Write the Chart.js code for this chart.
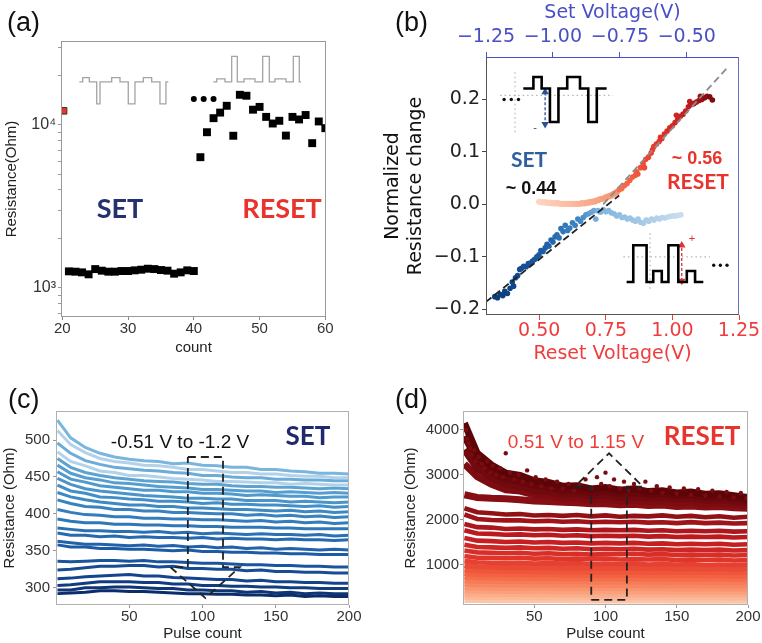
<!DOCTYPE html>
<html><head><meta charset="utf-8">
<script src="https://cdn.jsdelivr.net/npm/chart.js@4.4.1/dist/chart.umd.min.js"></script>
<style>
html,body{margin:0;padding:0;background:#fff}
body{width:762px;height:643px;position:relative;overflow:hidden;font-family:'Liberation Sans',Arial,sans-serif}
canvas{position:absolute}
.t{position:absolute;transform:translate(-50%,-50%);white-space:nowrap;line-height:1}
.p{position:absolute;font-size:27px;color:#111;line-height:1}
.b{font-family:Lato,'Open Sans',sans-serif;font-weight:700}
</style></head><body>
<canvas id="ca" width="380" height="360" style="left:0;top:0"></canvas>
<canvas id="cb" width="382" height="365" style="left:380px;top:0"></canvas>
<canvas id="cc" width="380" height="273" style="left:0;top:370px"></canvas>
<canvas id="cd" width="382" height="273" style="left:380px;top:370px"></canvas>

<div class="p" style="left:7px;top:9px">(a)</div>
<div class="p" style="left:395px;top:9px">(b)</div>
<div class="p" style="left:8px;top:386px">(c)</div>
<div class="p" style="left:395px;top:386px">(d)</div>

<div class="t b" style="left:120px;top:207px;font-size:27px;color:#25306f">SET</div>
<div class="t b" style="left:282px;top:207px;font-size:27px;color:#e8342c">RESET</div>

<div class="t b" style="left:529px;top:158px;font-size:21px;color:#2e5f9f">SET</div>
<div class="t" style="left:531px;top:188px;font-size:18px;font-weight:bold;color:#111">~ 0.44</div>
<div class="t" style="left:697px;top:158px;font-size:18px;font-weight:bold;color:#e8342c">~ 0.56</div>
<div class="t b" style="left:698px;top:180px;font-size:21px;color:#e8342c">RESET</div>
<div class="t" style="left:535px;top:127px;font-size:11px;color:#2a4f9a">-</div>
<div class="t" style="left:692px;top:238px;font-size:11px;color:#e03030">+</div>

<div class="t" style="left:180px;top:441px;font-size:19px;color:#111">-0.51 V to -1.2 V</div>
<div class="t b" style="left:308px;top:435px;font-size:26px;color:#1f2a6d">SET</div>
<div class="t" style="left:576px;top:441px;font-size:19px;color:#ef3e36">0.51 V to 1.15 V</div>
<div class="t b" style="left:702px;top:435px;font-size:26px;color:#e8342c">RESET</div>

<script>
// ================= DATA =================
// (a) resistance vs count
const aFirstCount = [20.2];
const aFirstRes = [12200];
const aSetCount = [21,22,23,24,25,26,27,28,29,30,31,32,33,34,35,36,37,38,39,40];
const aSetRes = [1265,1259,1247,1213,1306,1277,1259,1259,1271,1271,1283,1295,1313,1306,1289,1277,1224,1247,1283,1271];
const aResetCount = [41,42,43,44,45,46,47,48,49,50,51,52,53,54,55,56,57,58,59,60];
const aResetRes = [6340,9020,11000,11900,13100,8580,15300,15100,12400,12900,11200,10200,10600,8600,11200,10800,11500,7730,10500,9550];
const aDotsCount = [40,41.5,43];
const aDotsRes = [14400,14400,14400];
const aXTicks = [20,30,40,50,60];
const aYTicks = [700,800,900,1000,2000,3000,4000,5000,6000,7000,8000,9000,10000,20000,30000];
// pulse schematics (time in count units, level in pulse units)
const aSetWaveT = [22.58,23.10,23.10,24.10,24.10,25.23,25.23,25.73,25.73,27.51,27.51,28.77,28.77,30.03,30.03,31.05,31.05,32.32,32.32,33.59,33.59,34.85,34.85,35.76,35.76,36.12];
const aSetWaveL = [0,0,1,1,0,0,-5,-5,0,0,1,1,0,0,-5,-5,0,0,1,1,0,0,-5,-5,0,0];
const aResetWaveT = [42.96,43.48,43.48,44.74,44.74,45.76,45.76,46.61,46.61,47.63,47.63,49.30,49.30,50.47,50.47,51.48,51.48,52.34,52.34,54.02,54.02,55.13,55.13,56.04,56.04,56.3];
const aResetWaveL = [0,0,0.7,0.7,0,0,5.8,5.8,0,0,0.7,0.7,0,0,5.8,5.8,0,0,0.7,0.7,0,0,5.8,5.8,0,0];

// (b) normalized resistance change vs voltage
const bSetV = [-1.217,-1.207,-1.197,-1.187,-1.180,-1.170,-1.160,-1.152,-1.147,-1.140,
 -1.132,-1.124,-1.117,-1.109,-1.100,-1.092,-1.084,-1.076,-1.068,-1.060,
 -1.052,-1.045,-1.037,-1.029,-1.022,-1.015,-1.007,-1.000,-0.992,-0.985,
 -0.977,-0.970,-0.962,-0.954,-0.945,-0.937,-0.927,-0.917,-0.907,-0.897,
 -0.887,-0.877,-0.867,-0.857,-0.847,-0.840,-0.832,-0.822,-0.812,-0.802,
 -0.792,-0.782,-0.772,-0.762,-0.752,-0.742,-0.732,-0.722,-0.712,-0.702,
 -0.692,-0.682,-0.672,-0.662,-0.652,-0.642,-0.632,-0.622,-0.612,-0.602,
 -0.592,-0.582,-0.572,-0.562,-0.552,-0.542,-0.532,-0.522];
const bSetDR = [-0.176,-0.178,-0.172,-0.174,-0.166,-0.170,-0.160,-0.148,-0.156,-0.140,
 -0.136,-0.124,-0.122,-0.118,-0.119,-0.113,-0.112,-0.108,-0.105,-0.100,
 -0.096,-0.088,-0.090,-0.083,-0.076,-0.080,-0.068,-0.072,-0.062,-0.058,
 -0.064,-0.046,-0.052,-0.040,-0.050,-0.045,-0.035,-0.040,-0.028,-0.032,
 -0.025,-0.020,-0.018,-0.015,-0.012,-0.028,-0.012,-0.015,-0.010,-0.014,
 -0.012,-0.016,-0.018,-0.022,-0.020,-0.025,-0.024,-0.028,-0.026,-0.030,
 -0.032,-0.028,-0.034,-0.036,-0.030,-0.032,-0.028,-0.030,-0.026,-0.028,
 -0.025,-0.026,-0.024,-0.023,-0.022,-0.022,-0.021,-0.020];
const bResetFlatV = [0.50,0.51,0.52,0.53,0.54,0.55,0.56,0.57,0.58,0.59,0.60,0.61,0.62,0.63,0.64,0.65,0.66,0.67,0.68,0.69,0.70,0.71,0.72,0.73,0.74,0.75,0.76,0.77,0.78,0.79];
const bResetFlatDR = [0.005,0.004,0.004,0.003,0.003,0.002,0.002,0.002,0.001,0.001,0.001,0.001,0.001,0.001,0.001,0.001,0.002,0.002,0.003,0.004,0.005,0.006,0.008,0.010,0.011,0.013,0.015,0.017,0.020,0.023];
const bResetRiseV = [0.80,0.81,0.82,0.83,0.84,0.85,0.86,0.865,0.87,0.88,0.89,0.895,0.90,0.91,0.92,0.925,0.93,0.94,0.95,0.955,0.96,0.97,0.98,0.99,1.00,1.01,1.015,1.02,1.03,1.04,1.05,1.06,1.065,1.07,1.08,1.09,1.10,1.105,1.11,1.12,1.13,1.14,1.15];
const bResetRiseDR = [0.028,0.030,0.036,0.040,0.046,0.052,0.055,0.062,0.058,0.070,0.078,0.070,0.086,0.090,0.098,0.104,0.110,0.115,0.120,0.128,0.125,0.134,0.140,0.146,0.150,0.156,0.170,0.162,0.168,0.172,0.178,0.186,0.196,0.190,0.192,0.195,0.198,0.206,0.200,0.203,0.206,0.205,0.199];
const bFitSetX = [0.30,0.80], bFitSetY = [-0.186,0.017];
const bFitResetX = [0.74,1.205], bFitResetY = [0.0,0.26];
const bXTicks = [0.5,0.75,1.0,1.25];
const bTopTicks = [-1.25,-1.0,-0.75,-0.5];
const bYTicks = [-0.2,-0.1,0,0.1,0.2];
// inset pulse schematics (in reset-voltage / normalized units)
const bSetInsetX = [0.440,0.478,0.478,0.509,0.509,0.540,0.540,0.572,0.572,0.605,0.605,0.653,0.653,0.684,0.684,0.716,0.716,0.753];
const bSetInsetY = [0.221,0.221,0.243,0.243,0.221,0.221,0.157,0.157,0.221,0.221,0.243,0.243,0.221,0.221,0.157,0.157,0.221,0.221];
const bResetInsetX = [0.828,0.853,0.853,0.903,0.903,0.928,0.928,0.960,0.960,0.985,0.985,1.022,1.022,1.054,1.054,1.085,1.085,1.116];
const bResetInsetY = [-0.148,-0.148,-0.078,-0.078,-0.148,-0.148,-0.127,-0.127,-0.148,-0.148,-0.078,-0.078,-0.148,-0.148,-0.127,-0.127,-0.148,-0.148];

// (c) SET pulse trains, (d) RESET pulse trains
const pulses = [1,10,20,30,40,50,60,70,80,90,100,110,120,130,140,150,160,170,180,190,200];
const cSeries = [
 [527,503,490,482,477,474,472,471,468,469,466,465,463,463,460,460,458,457,455,455,454],
 [513,494,483,475,471,469,466,465,463,460,460,458,456,456,454,454,452,451,451,449,449],
 [496,482,472,467,463,461,459,458,456,455,452,452,450,449,449,447,447,446,446,445,445],
 [484,471,465,458,456,452,452,450,448,447,446,444,444,443,442,442,440,441,440,439,439],
 [475,463,456,452,449,447,445,444,443,441,440,440,438,437,437,436,436,435,434,435,434],
 [466,455,449,446,442,441,439,437,436,435,433,433,432,431,431,429,430,429,428,429,428],
 [457,447,443,438,436,434,432,432,430,430,428,428,427,425,426,425,424,424,422,423,423],
 [448,440,434,431,429,427,425,424,423,421,421,420,420,418,418,418,416,417,416,415,416],
 [439,431,428,423,422,420,419,417,417,416,414,415,413,413,412,412,411,410,411,409,410],
 [429,423,419,416,414,412,412,410,410,408,408,407,406,406,405,404,405,403,404,402,403],
 [419,414,410,409,406,406,404,404,402,402,401,400,400,398,399,397,398,396,397,395,396],
 [406,402,399,398,396,396,394,394,393,393,392,392,391,390,391,389,390,388,389,387,388],
 [393,390,388,388,386,386,385,385,384,384,383,383,382,382,382,381,381,380,380,380,380],
 [381,379,377,377,376,376,375,376,374,375,373,374,373,372,373,372,372,371,372,370,371],
 [374,371,371,369,370,368,369,368,368,367,368,366,367,366,366,365,366,365,365,364,365],
 [363,361,359,359,358,357,358,356,357,355,356,354,355,353,354,352,353,352,351,352,351],
 [358,355,355,353,353,352,352,351,350,351,349,349,348,348,347,347,346,346,345,345,345],
 [336,335,336,337,337,336,337,335,335,334,333,333,332,331,331,330,330,329,329,328,328],
 [324,325,327,329,329,330,330,328,329,326,326,325,325,323,324,322,322,321,321,320,320],
 [312,313,315,316,317,318,316,316,314,313,312,311,311,309,310,308,308,307,307,306,306],
 [303,304,306,308,308,308,307,307,305,305,303,303,302,302,301,301,300,300,299,299,299],
 [297,297,300,300,301,301,300,299,299,297,297,296,296,294,295,293,294,292,293,292,292],
 [292,293,294,296,296,295,295,294,293,292,292,291,291,290,290,289,290,288,289,288,288]
];
const dSeries = [
 [4150,3480,3220,3040,2990,2870,2830,2750,2760,2690,2720,2660,2690,2630,2650,2600,2620,2570,2580,2540,2500],
 [3860,3330,3060,2910,2860,2760,2730,2660,2660,2610,2630,2590,2610,2560,2580,2540,2560,2510,2520,2480,2450],
 [3560,3140,2940,2790,2750,2650,2630,2570,2580,2520,2550,2500,2520,2480,2500,2460,2480,2440,2450,2410,2390],
 [3240,2960,2790,2670,2640,2560,2540,2490,2500,2440,2470,2420,2440,2400,2420,2380,2400,2360,2370,2340,2320],
 [2560,2500,2480,2470,2450,2420,2410,2390,2380,2360,2360,2340,2350,2320,2330,2300,2310,2290,2300,2270,2260],
 [2260,2170,2150,2120,2130,2100,2110,2090,2110,2080,2100,2070,2090,2080,2100,2070,2090,2060,2080,2050,2070],
 [2120,2020,2000,1990,1990,1970,1980,1960,1970,1950,1960,1950,1960,1940,1950,1930,1950,1930,1940,1920,1930],
 [1910,1840,1830,1800,1810,1790,1800,1780,1790,1770,1780,1770,1780,1760,1770,1750,1760,1750,1760,1740,1750],
 [1770,1700,1690,1670,1680,1660,1670,1650,1660,1640,1650,1640,1650,1630,1640,1620,1630,1620,1630,1610,1620],
 [1600,1540,1530,1510,1520,1500,1510,1490,1500,1480,1490,1480,1490,1470,1480,1460,1470,1460,1470,1450,1460],
 [1450,1400,1390,1380,1390,1370,1380,1360,1370,1350,1360,1350,1360,1340,1350,1330,1340,1330,1340,1320,1330],
 [1320,1280,1270,1260,1270,1250,1260,1240,1250,1230,1240,1240,1250,1230,1240,1220,1230,1220,1230,1210,1220],
 [1200,1160,1160,1150,1160,1140,1150,1130,1140,1130,1140,1120,1130,1120,1130,1110,1120,1110,1120,1100,1110],
 [1090,1060,1050,1040,1050,1030,1040,1030,1040,1020,1030,1020,1030,1010,1020,1010,1020,1000,1010,1000,1010],
 [990,960,955,945,950,935,945,930,940,925,935,925,935,920,930,915,925,915,925,910,920],
 [895,875,870,860,865,855,860,850,855,845,850,845,850,840,845,835,840,835,840,830,835],
 [815,795,790,785,790,780,785,775,780,770,775,770,775,765,770,765,770,760,765,755,760],
 [735,720,715,710,715,705,710,700,705,700,705,695,700,695,700,690,695,690,695,685,690],
 [655,645,640,635,640,630,635,630,635,625,630,625,630,620,625,620,625,615,620,615,620],
 [575,565,565,560,560,555,560,555,555,550,555,550,550,545,550,545,545,540,545,540,540],
 [500,495,490,490,490,485,485,480,485,480,480,475,480,475,475,470,475,470,470,465,470],
 [425,420,420,415,420,415,415,410,415,410,410,405,410,405,405,400,405,400,400,400,400],
 [355,350,350,350,350,345,345,345,345,340,345,340,340,340,340,335,340,335,335,335,335],
 [285,280,280,280,280,275,275,275,275,275,275,270,275,270,270,270,270,270,270,265,265],
 [215,215,210,210,210,210,210,210,205,205,205,205,205,205,205,200,200,200,200,200,200]
];
// scattered high-resistance RESET readings
const dDotsX = [2,3,4,5,6,8,9,11,13,15,17,19,21,23,26,28,30,33,36,39,42,45,48,51,55,58,62,66,70,74,78,82,86,90,94,97,100,103,106,110,113,116,120,124,128,132,136,140,145,150,155,160,165,170,175,180,185,190,195,199];
const dDotsY = [4000,3800,3700,3600,3450,3550,3300,3400,3250,3150,3300,3050,3200,3000,3150,2950,3480,3050,2900,3000,2850,3100,2800,2950,2750,2900,2700,2850,2700,2800,2650,2780,2900,2700,2950,2800,3050,2750,2900,2700,2850,2650,2800,2700,2850,2650,2750,2600,2720,2580,2700,2560,2680,2540,2650,2520,2620,2500,2600,2480];
const cXTicks = [50,100,150,200];
const cYTicks = [300,350,400,450,500];
const dYTicks = [1000,2000,3000,4000];
// direction arrows (pulse count / ohm units)
const cArrowX = [90,114,114,125.5,102,78,90,90];
const cArrowY = [477,477,328,328,286,328,328,477];
const dArrowX = [90,115,115,126.3,102.5,78.4,90,90];
const dArrowY = [222,222,2740,2740,3480,2740,2740,222];

// ================= HELPERS =================
Chart.defaults.font.family = "'Liberation Sans', Arial, sans-serif";
Chart.defaults.color = '#333';
const xy = (xs, ys) => xs.map((x, i) => ({x, y: ys[i]}));
function hexToRgb(h){const n=parseInt(h.slice(1),16);return [(n>>16)&255,(n>>8)&255,n&255];}
function cmap(stops,t){t=Math.max(0,Math.min(1,t));for(let i=1;i<stops.length;i++){if(t<=stops[i][0]){const [t0,c0]=stops[i-1],[t1,c1]=stops[i];const f=(t-t0)/((t1-t0)||1);const a=hexToRgb(c0),b=hexToRgb(c1);return 'rgb('+a.map((v,k)=>Math.round(v+(b[k]-v)*f)).join(',')+')';}}return stops[stops.length-1][1];}
const frame = {
  id:'frame',
  afterDraw(chart, args, o){
    const {left,right,top,bottom} = chart.chartArea; const c = chart.ctx;
    c.save(); c.lineWidth = 1;
    const seg=(col,x1,y1,x2,y2)=>{c.strokeStyle=col;c.beginPath();c.moveTo(x1,y1);c.lineTo(x2,y2);c.stroke();};
    const L=Math.round(left)+0.5,R=Math.round(right)-0.5,T=Math.round(top)+0.5,B=Math.round(bottom)-0.5;
    seg(o.top,L-0.5,T,R+0.5,T); seg(o.bottom,L-0.5,B,R+0.5,B); seg(o.left,L,T,L,B); seg(o.right,R,T,R,B);
    c.restore();
  }
};
const common = (fr, pad) => ({responsive:false, animation:false, events:[], layout:{padding:pad},
  plugins:{legend:{display:false}, tooltip:{enabled:false}, frame:fr}});
const setTicks = arr => s => { s.ticks = arr.map(v => ({value:v})); };
const minus = s => s.replace('-', '\u2212');

// ================= (a) =================
new Chart(document.getElementById('ca'), {
  type:'scatter', plugins:[frame],
  data:{datasets:[
    {data:xy(aFirstCount,aFirstRes), pointStyle:'rect', pointRadius:4.6, backgroundColor:'#e8352a', borderColor:'#333', borderWidth:1, clip:0},
    {data:xy(aSetCount,aSetRes), pointStyle:'rect', pointRadius:5.6, backgroundColor:'#000', borderWidth:0, clip:0},
    {data:xy(aResetCount,aResetRes), pointStyle:'rect', pointRadius:5.6, backgroundColor:'#000', borderWidth:0, clip:0},
    {data:xy(aDotsCount,aDotsRes), pointStyle:'circle', pointRadius:3, backgroundColor:'#000', borderWidth:0, clip:0},
    {data:xy(aSetWaveT,aSetWaveL), yAxisID:'yw', showLine:true, pointRadius:0, borderColor:'#a4a4a4', borderWidth:1.3},
    {data:xy(aResetWaveT,aResetWaveL), yAxisID:'yw', showLine:true, pointRadius:0, borderColor:'#a4a4a4', borderWidth:1.3}
  ]},
  options:Object.assign(common({top:'#999',bottom:'#999',left:'#999',right:'#999'},{top:41,right:54,left:0,bottom:0}), {
    scales:{
      x:{type:'linear', bounds:'data', min:19.8, max:60.1, afterBuildTicks:setTicks(aXTicks), afterFit:s=>{s.height=43;},
         grid:{drawOnChartArea:false, tickLength:3, tickColor:'#888'}, border:{display:false},
         ticks:{font:{size:15}, color:'#333', padding:0, maxRotation:0, autoSkip:false},
         title:{display:true, text:'count', font:{size:15}, color:'#222', padding:{top:0,bottom:3}}},
      y:{type:'logarithmic', bounds:'data', min:664, max:32700, afterBuildTicks:setTicks(aYTicks), afterFit:s=>{s.width=61;},
         grid:{drawOnChartArea:false, tickLength:3, tickColor:'#999'}, border:{display:false},
         ticks:{autoSkip:false, font:{size:16}, color:'#333', padding:2,
                callback:v=> v===1000 ? '10\u00B3' : (v===10000 ? '10\u2074' : '')},
         title:{display:true, text:'Resistance(Ohm)', font:{size:15}, color:'#222', padding:{top:3,bottom:0}}},
      yw:{type:'linear', display:false, min:-53.4, max:9.3}
    }
  })
});

// ================= (b) =================
const bFont = {family:"'DejaVu Sans', sans-serif", size:19};
const blueStops = [[0,'#0b3a78'],[0.3,'#1c5ea8'],[0.5,'#3f86c4'],[0.6,'#7fb3dc'],[1,'#c8ddef']];
const flatStops = [[0,'#fdd6c4'],[1,'#f7946f']];
const riseStops = [[0,'#f6704e'],[0.4,'#e8372a'],[0.75,'#c21b1f'],[1,'#7a0b10']];
const refStyle = {showLine:true, pointRadius:0, borderColor:'#b4b4b4', borderWidth:1.2, borderDash:[1.5,3]};
new Chart(document.getElementById('cb'), {
  type:'scatter', plugins:[frame],
  data:{datasets:[
    {data:xy(bFitSetX,bFitSetY), showLine:true, pointRadius:0, borderColor:'#222', borderWidth:1.8, borderDash:[7,4]},
    {data:xy(bFitResetX,bFitResetY), showLine:true, pointRadius:0, borderColor:'#8c8c8c', borderWidth:1.8, borderDash:[7,4]},
    {data:xy(bSetInsetX,bSetInsetY), showLine:true, pointRadius:0, borderColor:'#000', borderWidth:2.6},
    {data:xy(bResetInsetX,bResetInsetY), showLine:true, pointRadius:0, borderColor:'#000', borderWidth:2.6},
    {data:[{x:0.522,y:0.214},{x:0.522,y:0.153}], showLine:true, borderColor:'#2a4f9a', borderWidth:1.3, borderDash:[3,2],
     pointStyle:'triangle', pointRadius:3, pointRotation:[0,180], backgroundColor:'#2a4f9a'},
    {data:[{x:1.035,y:-0.146},{x:1.035,y:-0.078}], showLine:true, borderColor:'#e03030', borderWidth:1.3, borderDash:[3,2],
     pointStyle:'triangle', pointRadius:3, pointRotation:[180,0], backgroundColor:'#e03030'},
    Object.assign({data:[{x:0.409,y:0.252},{x:0.409,y:0.132}]}, refStyle),
    Object.assign({data:[{x:0.353,y:0.208},{x:0.777,y:0.208}]}, refStyle),
    Object.assign({data:[{x:0.916,y:-0.055},{x:0.916,y:-0.163}]}, refStyle),
    Object.assign({data:[{x:0.816,y:-0.100},{x:1.141,y:-0.100}]}, refStyle),
    {data:[{x:0.368,y:0.20},{x:0.395,y:0.20},{x:0.422,y:0.20},{x:1.155,y:-0.116},{x:1.18,y:-0.116},{x:1.205,y:-0.116}],
     pointRadius:1.7, backgroundColor:'#111', borderWidth:0},
    {data:xy(bResetRiseV,bResetRiseDR), pointRadius:2.8, borderWidth:0, clip:0,
     backgroundColor:bResetRiseV.map((v,i)=>cmap(riseStops,i/(bResetRiseV.length-1)))},
    {data:xy(bResetFlatV,bResetFlatDR), pointRadius:3.2, borderWidth:0, clip:0,
     backgroundColor:bResetFlatV.map((v,i)=>cmap(flatStops,i/(bResetFlatV.length-1)))},
    {data:xy(bSetV,bSetDR), xAxisID:'x2', pointRadius:2.8, borderWidth:0, clip:0,
     backgroundColor:bSetV.map((v,i)=>cmap(blueStops,i/(bSetV.length-1)))}
  ]},
  options:Object.assign(common({top:'#4a50c4',bottom:'#555',left:'#555',right:'#6a70c0'},{top:0,right:23,left:0,bottom:0}), {
    scales:{
      x:{type:'linear', position:'bottom', bounds:'data', min:0.30, max:1.25, afterBuildTicks:setTicks(bXTicks), afterFit:s=>{s.height=50;},
         grid:{drawOnChartArea:false, tickLength:5, tickColor:'#f03c3c'}, border:{display:false},
         ticks:{font:bFont, color:'#f03c3c', padding:0, maxRotation:0, autoSkip:false, callback:v=>v.toFixed(2)},
         title:{display:true, text:'Reset Voltage(V)', font:bFont, color:'#f03c3c', padding:{top:0,bottom:0}}},
      x2:{type:'linear', position:'top', axis:'x', bounds:'data', min:-1.25, max:-0.305, afterBuildTicks:setTicks(bTopTicks), afterFit:s=>{s.height=57;},
         grid:{drawOnChartArea:false, tickLength:5, tickColor:'#4a50c4'}, border:{display:false},
         ticks:{font:bFont, color:'#4a50c4', padding:4, maxRotation:0, autoSkip:false, callback:v=>minus(v.toFixed(2))},
         title:{display:true, text:'Set Voltage(V)', font:bFont, color:'#4a50c4', padding:{top:2,bottom:0}}},
      y:{type:'linear', bounds:'data', min:-0.211, max:0.281, afterBuildTicks:setTicks(bYTicks), afterFit:s=>{s.width=106;},
         grid:{drawOnChartArea:false, tickLength:4, tickColor:'#444'}, border:{display:false},
         ticks:{font:bFont, color:'#222', padding:2, autoSkip:false, callback:v=>minus(v.toFixed(1))},
         title:{display:true, text:['Normalized','Resistance change'], font:bFont, color:'#111', padding:{top:2,bottom:0}}}
    }
  })
});

// ================= (c) =================
const cStops = [[0,'#79b6de'],[0.3,'#4b96cb'],[0.55,'#2d76b9'],[0.75,'#1c58a4'],[1,'#0b2d6c']];
const cPale = [1,3];
new Chart(document.getElementById('cc'), {
  type:'scatter', plugins:[frame],
  data:{datasets:[
    {data:xy(cArrowX,cArrowY), showLine:true, pointRadius:0, borderColor:'#222', borderWidth:1.8, borderDash:[8,5]}
  ].concat(cSeries.map((s,i)=>({data:xy(pulses,s), showLine:true, pointRadius:0, borderWidth:3.0, clip:0,
      borderColor: cPale.includes(i) ? '#b3d2ea' : cmap(cStops, i/(cSeries.length-1))})))},
  options:Object.assign(common({top:'#b0b0b0',bottom:'#b0b0b0',left:'#b0b0b0',right:'#b0b0b0'},{top:41,right:31,left:0,bottom:0}), {
    scales:{
      x:{type:'linear', bounds:'data', min:0, max:200, afterBuildTicks:setTicks(cXTicks), afterFit:s=>{s.height=38;},
         grid:{drawOnChartArea:false, tickLength:3, tickColor:'#999'}, border:{display:false},
         ticks:{font:{size:15}, color:'#333', padding:0, maxRotation:0, autoSkip:false},
         title:{display:true, text:'Pulse count', font:{size:15}, color:'#222', padding:{top:0,bottom:0}}},
      y:{type:'linear', bounds:'data', min:276.6, max:539.3, afterBuildTicks:setTicks(cYTicks), afterFit:s=>{s.width=56;},
         grid:{drawOnChartArea:false, tickLength:3, tickColor:'#999'}, border:{display:false},
         ticks:{font:{size:15}, color:'#333', padding:3, autoSkip:false},
         title:{display:true, text:'Resistance (Ohm)', font:{size:15}, color:'#222', padding:{top:1,bottom:0}}}
    }
  })
});

// ================= (d) =================
const dStops = [[0,'#5c0509'],[0.2,'#8f1016'],[0.35,'#c01a1f'],[0.5,'#e0352b'],[0.65,'#f25c3e'],[0.8,'#f88a63'],[1,'#fcc5a8']];
new Chart(document.getElementById('cd'), {
  type:'scatter', plugins:[frame],
  data:{datasets:[
    {data:xy(dArrowX,dArrowY), showLine:true, pointRadius:0, borderColor:'#222', borderWidth:1.8, borderDash:[8,5]},
    {data:xy(dDotsX,dDotsY), pointRadius:2.2, borderWidth:0, backgroundColor:'#7a0c10', clip:0}
  ].concat(dSeries.map((s,i)=>({data:xy(pulses,s), showLine:true, pointRadius:0, borderWidth:i<5?7:(i<14?4.6:5.5), clip:0,
      borderColor: cmap(dStops, i/(dSeries.length-1))})))},
  options:Object.assign(common({top:'#b0b0b0',bottom:'#b0b0b0',left:'#b0b0b0',right:'#b0b0b0'},{top:41,right:14,left:0,bottom:0}), {
    scales:{
      x:{type:'linear', bounds:'data', min:0, max:200, afterBuildTicks:setTicks(cXTicks), afterFit:s=>{s.height=38;},
         grid:{drawOnChartArea:false, tickLength:3, tickColor:'#999'}, border:{display:false},
         ticks:{font:{size:15}, color:'#333', padding:0, maxRotation:0, autoSkip:false},
         title:{display:true, text:'Pulse count', font:{size:15}, color:'#222', padding:{top:0,bottom:0}}},
      y:{type:'linear', bounds:'data', min:110, max:4420, afterBuildTicks:setTicks(dYTicks), afterFit:s=>{s.width=83;},
         grid:{drawOnChartArea:false, tickLength:3, tickColor:'#999'}, border:{display:false},
         ticks:{font:{size:15}, color:'#333', padding:1, autoSkip:false, callback:v=>String(v)},
         title:{display:true, text:'Resistance (Ohm)', font:{size:15}, color:'#222', padding:{top:22,bottom:0}}}
    }
  })
});
</script>
</body></html>
